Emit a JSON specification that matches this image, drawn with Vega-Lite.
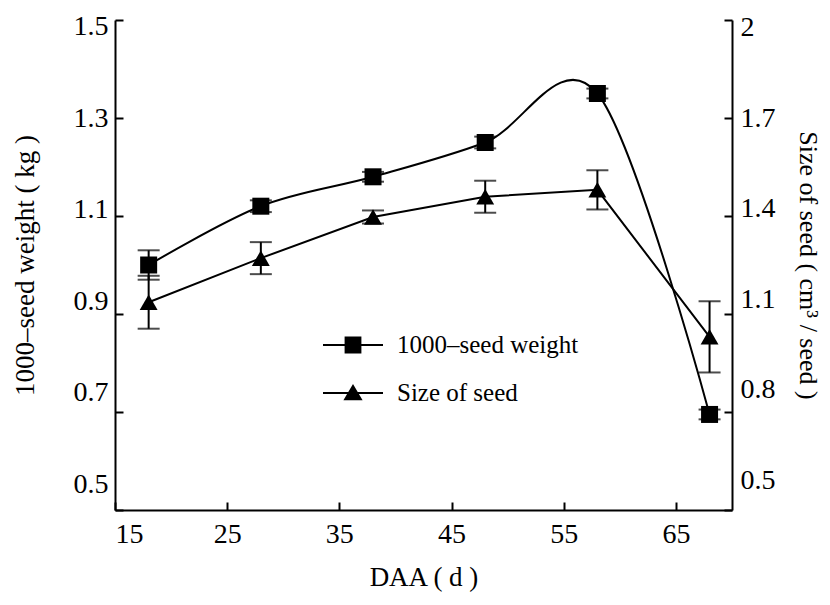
{
  "$schema": "https://vega.github.io/schema/vega-lite/v6.json",
  "width": 617,
  "height": 490,
  "autosize": "none",
  "padding": {"left": 115, "top": 20, "right": 98, "bottom": 95},
  "background": "white",
  "config": {
    "font": "Liberation Serif",
    "view": {"stroke": null},
    "axis": {
      "grid": false,
      "domainColor": "black",
      "domainWidth": 2,
      "tickColor": "black",
      "tickWidth": 2,
      "tickSize": -8,
      "labelColor": "black",
      "titleColor": "black",
      "labelFont": "Liberation Serif",
      "titleFont": "Liberation Serif",
      "labelFontSize": 28,
      "titleFontSize": 27,
      "titleFontWeight": "normal"
    }
  },
  "datasets": {
    "weight": [
      {"daa": 18, "w": 1.0, "lo": 0.97, "hi": 1.03},
      {"daa": 28, "w": 1.12, "lo": 1.108, "hi": 1.132},
      {"daa": 38, "w": 1.18, "lo": 1.17, "hi": 1.19},
      {"daa": 48, "w": 1.25, "lo": 1.238, "hi": 1.262},
      {"daa": 58, "w": 1.35, "lo": 1.34, "hi": 1.36},
      {"daa": 68, "w": 0.695, "lo": 0.685, "hi": 0.705}
    ],
    "size": [
      {"daa": 18, "s": 1.136, "lo": 1.055, "hi": 1.217},
      {"daa": 28, "s": 1.271, "lo": 1.222, "hi": 1.32},
      {"daa": 38, "s": 1.397, "lo": 1.377, "hi": 1.417},
      {"daa": 48, "s": 1.459, "lo": 1.41, "hi": 1.508},
      {"daa": 58, "s": 1.48, "lo": 1.42, "hi": 1.54},
      {"daa": 68, "s": 1.03, "lo": 0.921, "hi": 1.139}
    ]
  },
  "layer": [
    {
      "data": {"name": "weight"},
      "layer": [
        {
          "mark": {"type": "line", "interpolate": "cardinal", "color": "black", "strokeWidth": 2},
          "encoding": {
            "x": {"field": "daa", "type": "quantitative", "scale": {"domain": [15, 70], "nice": false},
              "axis": {"values": [15, 25, 35, 45, 55, 65], "title": "DAA ( d )", "labelPadding": 18, "titlePadding": 16}},
            "y": {"field": "w", "type": "quantitative", "title": "1000–seed weight ( kg )", "scale": {"domain": [0.5, 1.5], "nice": false},
              "axis": {"orient": "left", "values": [0.5, 0.7, 0.9, 1.1, 1.3, 1.5], "format": ".1f",
                "labelPadding": 15, "titlePadding": 34,
                "labelOffset": {"expr": "(datum.value - 1.3) * 32"}}}
          }
        },
        {
          "mark": {"type": "errorbar", "ticks": {"size": 22, "thickness": 2, "color": "black"}, "rule": {"strokeWidth": 2, "color": "black"}},
          "encoding": {
            "x": {"field": "daa", "type": "quantitative"},
            "y": {"field": "lo", "type": "quantitative", "title": "1000–seed weight ( kg )"},
            "y2": {"field": "hi"}
          }
        },
        {
          "mark": {"type": "point", "shape": "square", "filled": true, "size": 289, "color": "black", "opacity": 1},
          "encoding": {
            "x": {"field": "daa", "type": "quantitative"},
            "y": {"field": "w", "type": "quantitative", "title": "1000–seed weight ( kg )"}
          }
        },
        {
          "transform": [{"filter": "false"}],
          "mark": {"type": "point", "filled": true, "color": "black", "opacity": 1},
          "encoding": {
            "x": {"field": "daa", "type": "quantitative"},
            "y": {"field": "w", "type": "quantitative", "title": "1000–seed weight ( kg )"},
            "shape": {"field": "series", "type": "nominal",
              "scale": {"domain": ["1000–seed weight", "Size of seed"], "range": ["M-1,-0.034H1V0.034H-1ZM-0.28,-0.28H0.28V0.28H-0.28Z", "M-1,-0.034H1V0.034H-1ZM0,-0.3L0.32,0.24H-0.32Z"]},
              "legend": {
                "orient": "none", "legendX": 207, "legendY": 294, "title": null, "padding": 0,
                "labelFontSize": 25, "labelFont": "Liberation Serif", "labelColor": "black", "labelLimit": 0,
                "symbolSize": 3600, "symbolFillColor": "black",
                "labelOffset": 13, "rowPadding": 4
              }}
          }
        }
      ]
    },
    {
      "data": {"name": "size"},
      "layer": [
        {
          "mark": {"type": "line", "color": "black", "strokeWidth": 2},
          "encoding": {
            "x": {"field": "daa", "type": "quantitative"},
            "y": {"field": "s", "type": "quantitative", "title": "Size of seed ( cm³ / seed )", "scale": {"domain": [0.5, 2], "nice": false},
              "axis": {"orient": "right", "values": [0.5, 0.8, 1.1, 1.4, 1.7, 2], "format": ".1~f",
                "labelPadding": 16, "titlePadding": 19, "titleFontSize": 26, "labelOffset": {"expr": "(datum.value - 1.7) * 25"}}}
          }
        },
        {
          "mark": {"type": "errorbar", "ticks": {"size": 22, "thickness": 2, "color": "black"}, "rule": {"strokeWidth": 2, "color": "black"}},
          "encoding": {
            "x": {"field": "daa", "type": "quantitative"},
            "y": {"field": "lo", "type": "quantitative", "title": "Size of seed ( cm³ / seed )"},
            "y2": {"field": "hi"}
          }
        },
        {
          "mark": {"type": "point", "shape": "triangle-up", "filled": true, "size": 320, "color": "black", "opacity": 1},
          "encoding": {
            "x": {"field": "daa", "type": "quantitative"},
            "y": {"field": "s", "type": "quantitative", "title": "Size of seed ( cm³ / seed )"}
          }
        }
      ]
    }
  ],
  "resolve": {"scale": {"y": "independent"}}
}
